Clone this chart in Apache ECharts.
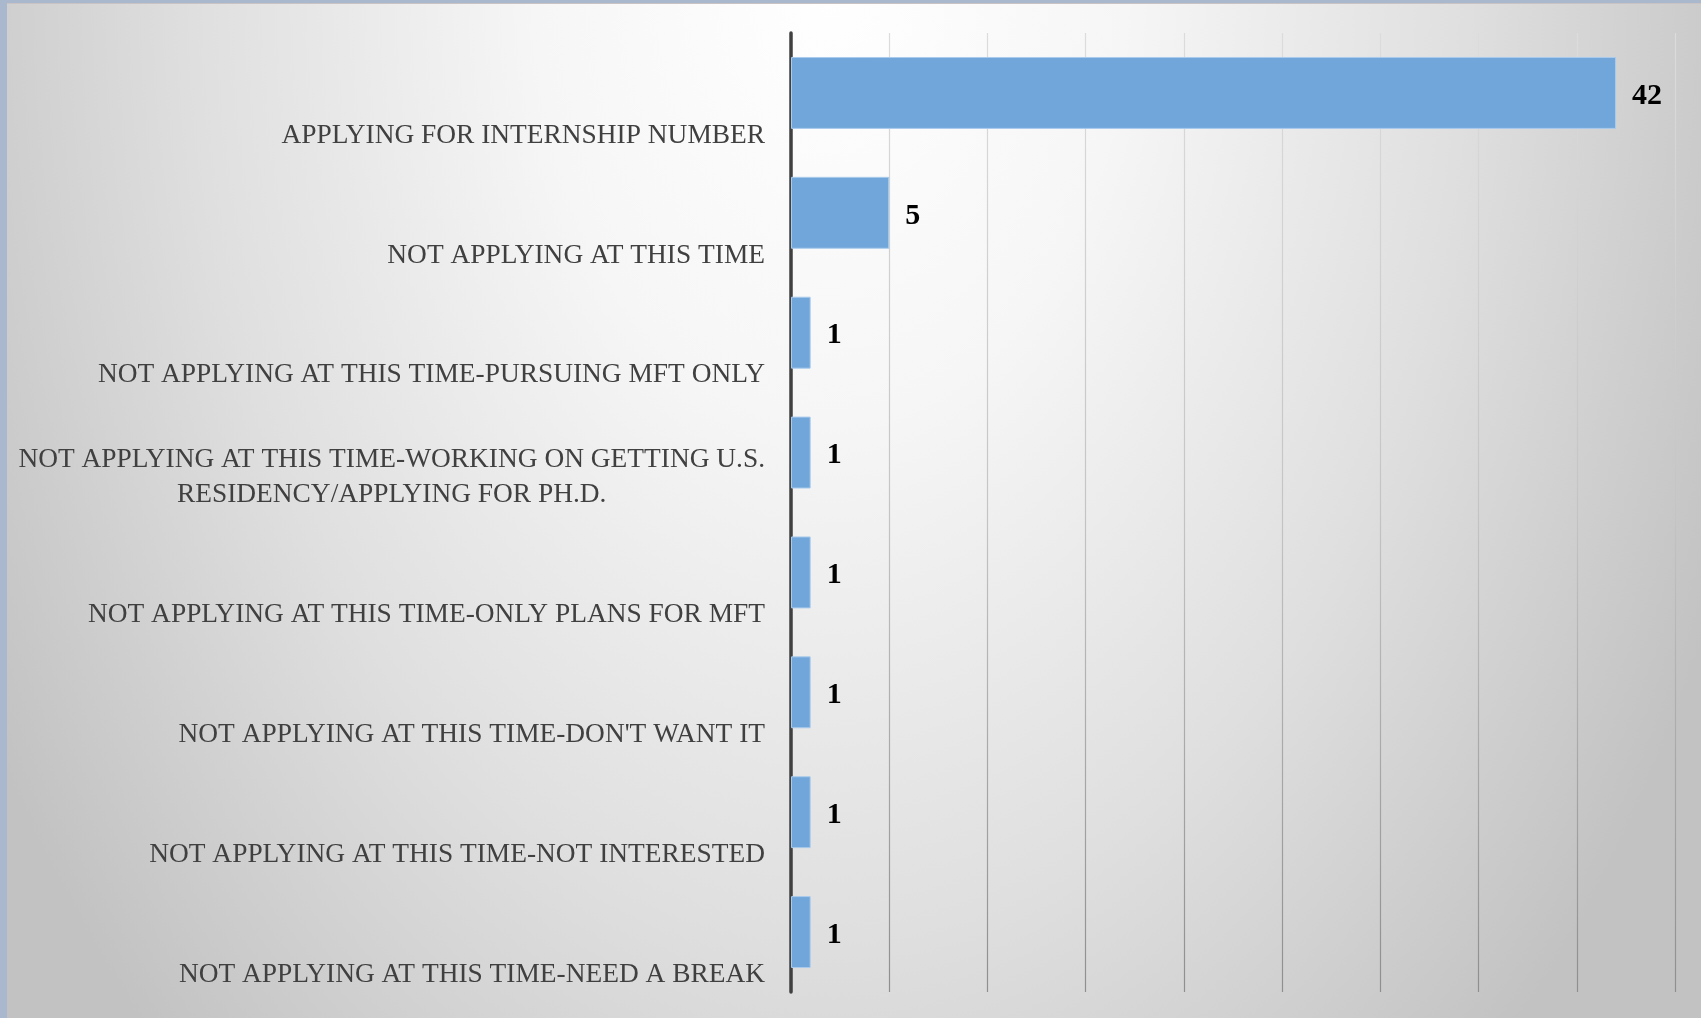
<!DOCTYPE html>
<html>
<head>
<meta charset="utf-8">
<script src="https://cdn.jsdelivr.net/npm/echarts@6/dist/echarts.min.js"></script>
<style>
html,body{margin:0;padding:0;background:#fff;}
#chart{width:1701px;height:1018px;}
</style>
</head>
<body>
<div id="chart"></div>
<script>
const categories = [
  "APPLYING FOR INTERNSHIP NUMBER",
  "NOT APPLYING AT THIS TIME",
  "NOT APPLYING AT THIS TIME-PURSUING MFT ONLY",
  "NOT APPLYING AT THIS TIME-WORKING ON GETTING U.S.\nRESIDENCY/APPLYING FOR PH.D.",
  "NOT APPLYING AT THIS TIME-ONLY PLANS FOR MFT",
  "NOT APPLYING AT THIS TIME-DON'T WANT IT",
  "NOT APPLYING AT THIS TIME-NOT INTERESTED",
  "NOT APPLYING AT THIS TIME-NEED A BREAK"
];
const values = [42, 5, 1, 1, 1, 1, 1, 1];
const axisMin = 0;
const axisMax = 45;
const axisInterval = 5;

const chart = echarts.init(document.getElementById('chart'), null, {renderer: 'canvas'});
const SY = 1.5;
const option = {
  animation: false,
  graphic: [
    {
      type: 'rect', x: 0, y: 0, scaleY: SY, z: -100, silent: true,
      shape: {x: 0, y: 0, width: 1701, height: 1018 / SY},
      style: {
        fill: {
          type: 'radial', global: true, x: 830, y: -20 / SY, r: 980,
          colorStops: [
            {offset: 0, color: '#ffffff'},
            {offset: 0.3, color: '#f6f6f6'},
            {offset: 0.65, color: '#dfdfdf'},
            {offset: 1, color: '#c2c2c2'}
          ]
        }
      }
    },
    {type: 'rect', z: -99, silent: true, shape: {x: 0, y: 0, width: 7, height: 1018}, style: {fill: '#a9b8cc'}},
    {type: 'rect', z: -99, silent: true, shape: {x: 0, y: 0, width: 1701, height: 3}, style: {fill: '#a9b8cc'}},
    {type: 'rect', z: -99, silent: true, shape: {x: 7, y: 3, width: 1694, height: 1}, style: {fill: '#c9c3c3'}}
  ],
  grid: {left: 791, right: 26, top: 33, bottom: 26, containLabel: false},
  xAxis: {
    type: 'value', min: axisMin, max: axisMax, interval: axisInterval,
    axisLine: {show: false}, axisTick: {show: false}, axisLabel: {show: false},
    splitLine: {
      show: true,
      lineStyle: {
        width: 1.2,
        color: {
          type: 'linear', x: 0, y: 0, x2: 0, y2: 1,
          colorStops: [
            {offset: 0, color: '#dcdcdc'},
            {offset: 0.5, color: '#c4c4c4'},
            {offset: 1, color: '#8e8e8e'}
          ]
        }
      }
    }
  },
  yAxis: {
    type: 'category', inverse: true, data: categories,
    axisLine: {show: true, lineStyle: {color: '#404040', width: 3.5}},
    axisTick: {show: false},
    splitLine: {show: false},
    axisLabel: {
      margin: 26,
      align: 'right',
      verticalAlign: 'bottom',
      padding: [0, 0, -60, 0],
      formatter: function (v) {
        return v.split('\n').map(function (s) { return '{c|' + s + '}'; }).join('\n');
      },
      rich: {
        c: {
          align: 'center',
          fontFamily: 'Liberation Serif',
          fontSize: 27.4,
          lineHeight: 35,
          color: '#404040'
        }
      }
    }
  },
  series: [{
    type: 'bar',
    data: values,
    barCategoryGap: '40%',
    itemStyle: {color: '#70a6da', borderColor: '#a9cbec', borderWidth: 1},
    label: {
      show: true, position: 'right', distance: 16, offset: [0, 3],
      fontFamily: 'Liberation Serif', fontWeight: 'bold', fontSize: 30, color: '#000000'
    }
  }]
};
chart.setOption(option);
</script>
</body>
</html>
